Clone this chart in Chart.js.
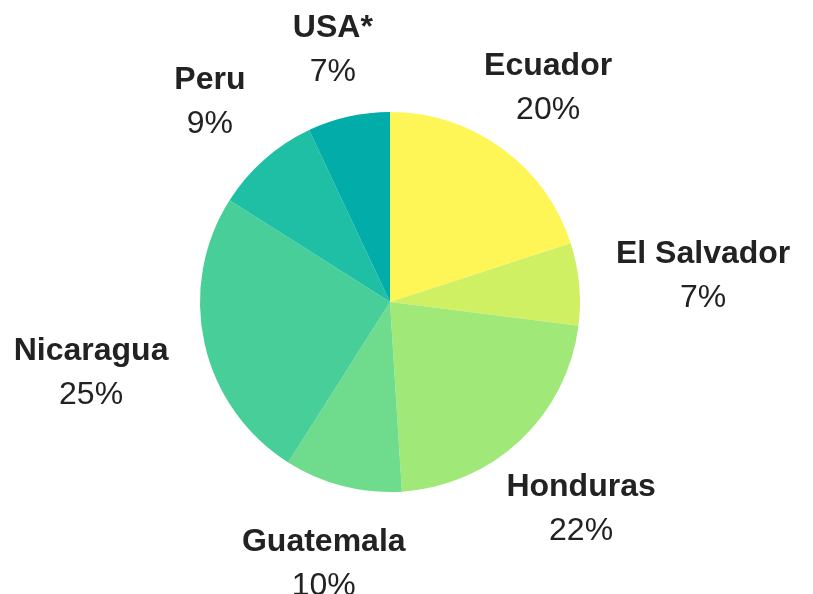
<!DOCTYPE html>
<html>
<head>
<meta charset="utf-8">
<script src="https://cdn.jsdelivr.net/npm/chart.js@4"></script>
<style>
  html, body { margin: 0; padding: 0; background: #fff; }
  #wrap { width: 813px; height: 594px; position: relative; }
</style>
</head>
<body>
<div id="wrap"><canvas id="pie"></canvas></div>
<script>
// Data
const countries = ['Ecuador', 'El Salvador', 'Honduras', 'Guatemala', 'Nicaragua', 'Peru', 'USA*'];
const shares = [20, 7, 22, 10, 25, 9, 7];
const sliceColors = ['#fef556', '#d0f064', '#a0e878', '#6fdb8c', '#48ce99', '#1fbfa6', '#02aca8'];

const BOLD = 'bold 32px "Liberation Sans", Arial, sans-serif';
const NORMAL = '32px "Liberation Sans", Arial, sans-serif';

// Outside labels: bold name with percent underneath, pushed out along the slice's mid-angle
const outsideLabels = {
    id: 'outsideLabels',
    afterDatasetsDraw(chart) {
        const ctx = chart.ctx;
        const meta = chart.getDatasetMeta(0);
        ctx.save();
        ctx.fillStyle = '#222222';
        ctx.textAlign = 'center';
        ctx.textBaseline = 'middle';
        meta.data.forEach((arc, i) => {
            const p = arc.getProps(['x', 'y', 'startAngle', 'endAngle', 'outerRadius'], true);
            const mid = (p.startAngle + p.endAngle) / 2;
            const cos = Math.cos(mid), sin = Math.sin(mid);
            const name = countries[i];
            const pct = shares[i] + '%';
            ctx.font = BOLD;
            const w1 = ctx.measureText(name).width;
            ctx.font = NORMAL;
            const w2 = ctx.measureText(pct).width;
            const hw = Math.max(w1, w2) / 2;
            const hh = sin < 0 ? 34 : 38;
            // distance from box centre to its edge along the ray
            const tx = Math.abs(cos) > 1e-6 ? hw / Math.abs(cos) : Infinity;
            const ty = Math.abs(sin) > 1e-6 ? hh / Math.abs(sin) : Infinity;
            const r = p.outerRadius + 37 + Math.min(tx, ty);
            const cx = p.x + r * cos;
            const cy = p.y + r * sin + 4;
            ctx.font = BOLD;
            ctx.fillText(name, cx, cy - 22);
            ctx.font = NORMAL;
            ctx.fillText(pct, cx, cy + 22);
        });
        ctx.restore();
    }
};

new Chart(document.getElementById('pie'), {
    type: 'pie',
    data: {
        labels: countries,
        datasets: [{
            data: shares,
            backgroundColor: sliceColors,
            borderWidth: 0,
            hoverOffset: 0
        }]
    },
    options: {
        responsive: true,
        maintainAspectRatio: false,
        animation: false,
        layout: { padding: { left: 0, right: 33, top: 112, bottom: 102 } },
        plugins: {
            legend: { display: false },
            tooltip: { enabled: false }
        }
    },
    plugins: [outsideLabels]
});
</script>
</body>
</html>
